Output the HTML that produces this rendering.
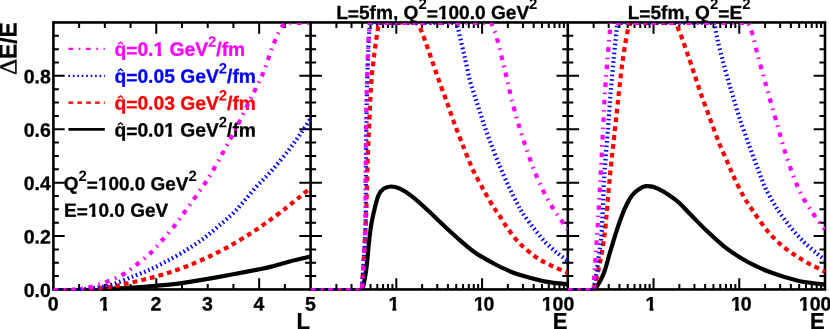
<!DOCTYPE html>
<html><head><meta charset="utf-8"><title>chart</title>
<style>html,body{margin:0;padding:0;background:#fff}svg{display:block;will-change:transform}text{font-family:"Liberation Sans",sans-serif;font-weight:bold;font-size:19.25px;fill:currentColor;stroke:currentColor;stroke-width:0.3px}.tl{font-size:19.5px}</style></head><body>
<svg width="830" height="329" viewBox="0 0 830 329">
<rect width="830" height="329" fill="#fff"/>
<defs>
<clipPath id="c1"><rect x="53.40" y="22.95" width="257.20" height="267.70"/></clipPath>
<clipPath id="c2"><rect x="310.60" y="22.95" width="257.20" height="267.70"/></clipPath>
<clipPath id="c3"><rect x="567.80" y="22.95" width="257.20" height="267.70"/></clipPath>
</defs>
<g fill="none" stroke="#000" stroke-width="2.60" stroke-linecap="square">
<rect x="53.40" y="22.45" width="771.60" height="267.00"/>
<path d="M310.60 22.45 V289.45 M567.80 22.45 V289.45"/>
</g>
<text transform="translate(336.2,19.0) rotate(0.03)" style="font-size:19.09px">L<tspan dy="1.3">=</tspan><tspan dy="-1.3">5fm, Q</tspan><tspan dy="-10.0" style="font-size:15.0px;stroke-width:0">2</tspan><tspan dy="11.3">=</tspan><tspan dy="-1.3">100.0 GeV</tspan><tspan dy="-10.0" style="font-size:15.0px;stroke-width:0">2</tspan></text>
<text transform="translate(627.7,19.0) rotate(0.03)" style="font-size:19.09px">L<tspan dy="1.3">=</tspan><tspan dy="-1.3">5fm, Q</tspan><tspan dy="-10.0" style="font-size:15.0px;stroke-width:0">2</tspan><tspan dy="11.3">=</tspan><tspan dy="-1.3">E</tspan><tspan dy="-10.0" style="font-size:15.0px;stroke-width:0">2</tspan></text>
<text transform="translate(63.8,190.1) rotate(0.03)" style="font-size:18.96px">Q<tspan dy="-9.2" style="font-size:14.9px;stroke-width:0">2</tspan><tspan dy="10.5">=</tspan><tspan dy="-1.3">100.0 GeV</tspan><tspan dy="-9.2" style="font-size:14.9px;stroke-width:0">2</tspan></text>
<text transform="translate(64.1,216.7) rotate(0.03)" style="font-size:19.0px">E<tspan dy="1.3">=</tspan><tspan dy="-1.3">10.0 GeV</tspan></text>
<path d="M68.4 48.9 H104.8" fill="none" stroke="#f0f" stroke-width="2.2" stroke-dasharray="4.6 5.7 1.6 5.7"/>
<text transform="translate(114.4,55.8) rotate(0.03)" style="color:#f0f">q<tspan dy="1.3">=</tspan><tspan dy="-1.3">0.1 GeV</tspan><tspan dy="-9.2" style="font-size:14.9px;stroke-width:0">2</tspan><tspan dy="9.2">/fm</tspan></text>
<path d="M117.9 44.3 l2.6 -2.2 l2.6 2.2" fill="none" stroke="#f0f" stroke-width="1.4"/>
<path d="M68.4 75.8 H104.8" fill="none" stroke="#00f" stroke-width="2.2" stroke-dasharray="1.6 2.85"/>
<text transform="translate(114.4,82.7) rotate(0.03)" style="color:#00f">q<tspan dy="1.3">=</tspan><tspan dy="-1.3">0.05 GeV</tspan><tspan dy="-9.2" style="font-size:14.9px;stroke-width:0">2</tspan><tspan dy="9.2">/fm</tspan></text>
<path d="M117.9 71.2 l2.6 -2.2 l2.6 2.2" fill="none" stroke="#00f" stroke-width="1.4"/>
<path d="M68.4 102.6 H104.8" fill="none" stroke="#f00" stroke-width="2.2" stroke-dasharray="4.8 4.07"/>
<text transform="translate(114.4,109.6) rotate(0.03)" style="color:#f00">q<tspan dy="1.3">=</tspan><tspan dy="-1.3">0.03 GeV</tspan><tspan dy="-9.2" style="font-size:14.9px;stroke-width:0">2</tspan><tspan dy="9.2">/fm</tspan></text>
<path d="M117.9 98.1 l2.6 -2.2 l2.6 2.2" fill="none" stroke="#f00" stroke-width="1.4"/>
<path d="M68.4 129.3 H104.8" fill="none" stroke="#000" stroke-width="2.7"/>
<text transform="translate(114.4,136.5) rotate(0.03)" style="color:#000">q<tspan dy="1.3">=</tspan><tspan dy="-1.3">0.01 GeV</tspan><tspan dy="-9.2" style="font-size:14.9px;stroke-width:0">2</tspan><tspan dy="9.2">/fm</tspan></text>
<path d="M117.9 125.0 l2.6 -2.2 l2.6 2.2" fill="none" stroke="#000" stroke-width="1.4"/>
<path fill="#fff" d="M437.69 16.00h4.11v4.20h-4.11z M445.62 16.00h3.25v4.20h-3.25z"/>
<path fill="#fff" d="M97.69 187.08h4.09v4.17h-4.09z M105.57 187.08h3.22v4.17h-3.22z"/>
<path fill="#fff" d="M87.70 213.67h4.09v4.18h-4.09z M95.59 213.67h3.23v4.18h-3.23z"/>
<path fill="#fff" d="M153.26 52.74h4.15v4.24h-4.15z M161.26 52.74h3.27v4.24h-3.27z"/>
<path fill="#fff" d="M163.97 133.45h4.15v4.24h-4.15z M171.96 133.45h3.27v4.24h-3.27z"/>
<path fill="none" stroke="#000" stroke-width="2.0" d="M79.12 289.45L79.12 283.95 M79.12 22.45L79.12 27.95 M104.84 289.45L104.84 283.95 M104.84 22.45L104.84 27.95 M130.56 289.45L130.56 283.95 M130.56 22.45L130.56 27.95 M156.28 289.45L156.28 278.15 M156.28 22.45L156.28 33.75 M182.00 289.45L182.00 283.95 M182.00 22.45L182.00 27.95 M207.72 289.45L207.72 283.95 M207.72 22.45L207.72 27.95 M233.44 289.45L233.44 283.95 M233.44 22.45L233.44 27.95 M259.16 289.45L259.16 278.15 M259.16 22.45L259.16 33.75 M284.88 289.45L284.88 283.95 M284.88 22.45L284.88 27.95 M336.41 289.45L336.41 283.95 M336.41 22.45L336.41 27.95 M351.51 289.45L351.51 283.95 M351.51 22.45L351.51 27.95 M362.22 289.45L362.22 283.95 M362.22 22.45L362.22 27.95 M370.53 289.45L370.53 283.95 M370.53 22.45L370.53 27.95 M377.31 289.45L377.31 283.95 M377.31 22.45L377.31 27.95 M383.05 289.45L383.05 283.95 M383.05 22.45L383.05 27.95 M388.02 289.45L388.02 283.95 M388.02 22.45L388.02 27.95 M392.41 289.45L392.41 283.95 M392.41 22.45L392.41 27.95 M396.33 289.45L396.33 278.15 M396.33 22.45L396.33 33.75 M422.14 289.45L422.14 283.95 M422.14 22.45L422.14 27.95 M437.24 289.45L437.24 283.95 M437.24 22.45L437.24 27.95 M447.95 289.45L447.95 283.95 M447.95 22.45L447.95 27.95 M456.26 289.45L456.26 283.95 M456.26 22.45L456.26 27.95 M463.05 289.45L463.05 283.95 M463.05 22.45L463.05 27.95 M468.79 289.45L468.79 283.95 M468.79 22.45L468.79 27.95 M473.76 289.45L473.76 283.95 M473.76 22.45L473.76 27.95 M478.14 289.45L478.14 283.95 M478.14 22.45L478.14 27.95 M482.07 289.45L482.07 278.15 M482.07 22.45L482.07 33.75 M507.87 289.45L507.87 283.95 M507.87 22.45L507.87 27.95 M522.97 289.45L522.97 283.95 M522.97 22.45L522.97 27.95 M533.68 289.45L533.68 283.95 M533.68 22.45L533.68 27.95 M541.99 289.45L541.99 283.95 M541.99 22.45L541.99 27.95 M548.78 289.45L548.78 283.95 M548.78 22.45L548.78 27.95 M554.52 289.45L554.52 283.95 M554.52 22.45L554.52 27.95 M559.49 289.45L559.49 283.95 M559.49 22.45L559.49 27.95 M563.88 289.45L563.88 283.95 M563.88 22.45L563.88 27.95 M593.61 289.45L593.61 283.95 M593.61 22.45L593.61 27.95 M608.71 289.45L608.71 283.95 M608.71 22.45L608.71 27.95 M619.42 289.45L619.42 283.95 M619.42 22.45L619.42 27.95 M627.73 289.45L627.73 283.95 M627.73 22.45L627.73 27.95 M634.51 289.45L634.51 283.95 M634.51 22.45L634.51 27.95 M640.25 289.45L640.25 283.95 M640.25 22.45L640.25 27.95 M645.22 289.45L645.22 283.95 M645.22 22.45L645.22 27.95 M649.61 289.45L649.61 283.95 M649.61 22.45L649.61 27.95 M653.53 289.45L653.53 278.15 M653.53 22.45L653.53 33.75 M679.34 289.45L679.34 283.95 M679.34 22.45L679.34 27.95 M694.44 289.45L694.44 283.95 M694.44 22.45L694.44 27.95 M705.15 289.45L705.15 283.95 M705.15 22.45L705.15 27.95 M713.46 289.45L713.46 283.95 M713.46 22.45L713.46 27.95 M720.25 289.45L720.25 283.95 M720.25 22.45L720.25 27.95 M725.99 289.45L725.99 283.95 M725.99 22.45L725.99 27.95 M730.96 289.45L730.96 283.95 M730.96 22.45L730.96 27.95 M735.34 289.45L735.34 283.95 M735.34 22.45L735.34 27.95 M739.27 289.45L739.27 278.15 M739.27 22.45L739.27 33.75 M765.07 289.45L765.07 283.95 M765.07 22.45L765.07 27.95 M780.17 289.45L780.17 283.95 M780.17 22.45L780.17 27.95 M790.88 289.45L790.88 283.95 M790.88 22.45L790.88 27.95 M799.19 289.45L799.19 283.95 M799.19 22.45L799.19 27.95 M805.98 289.45L805.98 283.95 M805.98 22.45L805.98 27.95 M811.72 289.45L811.72 283.95 M811.72 22.45L811.72 27.95 M816.69 289.45L816.69 283.95 M816.69 22.45L816.69 27.95 M821.08 289.45L821.08 283.95 M821.08 22.45L821.08 27.95 M53.40 276.10L58.90 276.10 M305.10 276.10L316.10 276.10 M562.30 276.10L573.30 276.10 M819.50 276.10L825.00 276.10 M53.40 262.75L58.90 262.75 M305.10 262.75L316.10 262.75 M562.30 262.75L573.30 262.75 M819.50 262.75L825.00 262.75 M53.40 249.40L58.90 249.40 M305.10 249.40L316.10 249.40 M562.30 249.40L573.30 249.40 M819.50 249.40L825.00 249.40 M53.40 236.05L64.70 236.05 M299.30 236.05L321.90 236.05 M556.50 236.05L579.10 236.05 M813.70 236.05L825.00 236.05 M53.40 222.70L58.90 222.70 M305.10 222.70L316.10 222.70 M562.30 222.70L573.30 222.70 M819.50 222.70L825.00 222.70 M53.40 209.35L58.90 209.35 M305.10 209.35L316.10 209.35 M562.30 209.35L573.30 209.35 M819.50 209.35L825.00 209.35 M53.40 196.00L58.90 196.00 M305.10 196.00L316.10 196.00 M562.30 196.00L573.30 196.00 M819.50 196.00L825.00 196.00 M53.40 182.65L64.70 182.65 M299.30 182.65L321.90 182.65 M556.50 182.65L579.10 182.65 M813.70 182.65L825.00 182.65 M53.40 169.30L58.90 169.30 M305.10 169.30L316.10 169.30 M562.30 169.30L573.30 169.30 M819.50 169.30L825.00 169.30 M53.40 155.95L58.90 155.95 M305.10 155.95L316.10 155.95 M562.30 155.95L573.30 155.95 M819.50 155.95L825.00 155.95 M53.40 142.60L58.90 142.60 M305.10 142.60L316.10 142.60 M562.30 142.60L573.30 142.60 M819.50 142.60L825.00 142.60 M53.40 129.25L64.70 129.25 M299.30 129.25L321.90 129.25 M556.50 129.25L579.10 129.25 M813.70 129.25L825.00 129.25 M53.40 115.90L58.90 115.90 M305.10 115.90L316.10 115.90 M562.30 115.90L573.30 115.90 M819.50 115.90L825.00 115.90 M53.40 102.55L58.90 102.55 M305.10 102.55L316.10 102.55 M562.30 102.55L573.30 102.55 M819.50 102.55L825.00 102.55 M53.40 89.20L58.90 89.20 M305.10 89.20L316.10 89.20 M562.30 89.20L573.30 89.20 M819.50 89.20L825.00 89.20 M53.40 75.85L64.70 75.85 M299.30 75.85L321.90 75.85 M556.50 75.85L579.10 75.85 M813.70 75.85L825.00 75.85 M53.40 62.50L58.90 62.50 M305.10 62.50L316.10 62.50 M562.30 62.50L573.30 62.50 M819.50 62.50L825.00 62.50 M53.40 49.15L58.90 49.15 M305.10 49.15L316.10 49.15 M562.30 49.15L573.30 49.15 M819.50 49.15L825.00 49.15 M53.40 35.80L58.90 35.80 M305.10 35.80L316.10 35.80 M562.30 35.80L573.30 35.80 M819.50 35.80L825.00 35.80"/>
<g clip-path="url(#c1)" fill="none" stroke-linejoin="round">
<path d="M53.4 289.4 L104.0 289.4" stroke="#000" stroke-width="2.1"/>
<path d="M104.0 289.7 C105.4 289.5 108.1 289.0 112.7 288.7 C117.3 288.4 126.2 288.0 133.0 287.6 C139.8 287.2 147.8 286.6 155.3 285.9 C162.8 285.2 171.6 284.5 180.0 283.4 C188.4 282.3 199.2 280.4 207.7 278.9 C216.2 277.4 225.0 275.8 233.2 274.3 C241.4 272.8 252.6 270.6 258.7 269.4 C264.8 268.2 266.4 267.9 271.5 266.6 C276.6 265.3 284.3 262.8 290.6 261.2 C296.9 259.6 307.4 257.3 310.6 256.5" stroke="#000" stroke-width="4.2"/>
<path d="M53.4 289.4 L84.0 289.4" stroke="#f00" stroke-width="2.1" stroke-dasharray="4.8 4.07"/>
<path d="M84.0 289.7 C88.2 289.2 103.0 287.8 110.0 286.8 C117.0 285.8 121.3 284.8 127.7 283.4 C134.1 282.0 143.5 279.8 150.3 278.0 C157.1 276.2 163.9 274.3 170.3 272.2 C176.7 270.1 184.0 267.4 190.4 264.8 C196.8 262.2 204.0 259.1 210.4 256.0 C216.8 252.9 224.1 249.2 230.5 245.6 C236.9 242.0 244.5 237.4 250.5 233.5 C256.5 229.6 262.2 225.6 268.0 221.5 C273.8 217.4 281.4 211.6 286.6 207.6 C291.8 203.6 296.6 199.4 300.4 196.3 C304.2 193.2 309.0 189.3 310.6 188.0" stroke="#f00" stroke-width="4.2" stroke-dasharray="4.8 4.07" stroke-dashoffset="4.0"/>
<path d="M53.4 289.4 L78.0 289.4" stroke="#00f" stroke-width="2.1" stroke-dasharray="1.6 2.85"/>
<path d="M78.0 289.7 C79.1 289.6 81.5 289.4 85.0 289.0 C88.5 288.6 95.6 287.9 100.0 287.2 C104.4 286.5 107.5 286.1 112.7 284.4 C117.9 282.7 126.7 279.0 132.7 276.6 C138.7 274.2 144.7 272.0 150.3 269.5 C155.9 267.0 162.2 263.7 167.8 260.7 C173.4 257.7 179.7 254.2 185.3 250.7 C190.9 247.2 197.5 243.0 202.9 239.0 C208.3 235.0 213.7 230.3 219.0 225.7 C224.3 221.1 230.1 216.5 236.0 210.3 C241.9 204.1 250.2 193.6 256.0 187.2 C261.8 180.8 267.1 176.0 272.3 170.0 C277.5 164.0 284.3 155.8 288.8 150.0 C293.3 144.2 296.9 139.0 300.4 134.0 C303.9 129.0 309.0 121.0 310.6 118.5" stroke="#00f" stroke-width="4.2" stroke-dasharray="1.6 2.85" stroke-dashoffset="2.4"/>
<path d="M53.4 289.4 L72.0 289.4" stroke="#f0f" stroke-width="2.1" stroke-dasharray="4.6 5.7 1.6 5.7"/>
<path d="M72.0 289.7 C74.5 289.4 82.3 288.9 87.6 287.7 C92.9 286.5 99.4 284.6 105.0 282.5 C110.6 280.4 117.7 277.5 122.7 274.7 C127.7 271.9 132.0 268.1 136.3 264.8 C140.6 261.5 145.9 257.5 149.8 253.8 C153.7 250.1 157.1 246.0 160.8 241.8 C164.5 237.6 169.0 232.8 173.0 227.8 C177.0 222.8 180.7 217.5 185.5 210.8 C190.3 204.1 198.8 192.3 203.0 186.2 C207.2 180.1 208.8 177.4 211.8 172.4 C214.8 167.4 218.8 160.2 221.8 154.8 C224.8 149.4 228.2 143.0 230.6 138.5 C233.0 134.0 233.8 133.0 237.0 126.5 C240.2 120.0 246.7 106.7 250.9 98.1 C255.1 89.5 259.9 80.8 263.3 72.6 C266.7 64.4 269.6 54.1 272.4 47.0 C275.2 39.9 278.4 32.5 280.7 28.5 C283.0 24.5 285.8 23.2 286.8 22.2" stroke="#f0f" stroke-width="4.2" stroke-dasharray="4.6 5.7 1.6 5.7" stroke-dashoffset="1.0"/>
<path d="M286.8 23.9 L310.6 23.9" stroke="#f0f" stroke-width="2.1" stroke-dasharray="4.6 5.7 1.6 5.7" stroke-dashoffset="7.5"/>
</g>
<g clip-path="url(#c2)" fill="none" stroke-linejoin="round">
<path d="M310.6 289.4 L362.6 289.4" stroke="#000" stroke-width="2.1"/>
<path d="M362.6 289.7 C363.2 286.5 365.2 277.1 366.2 269.9 C367.2 262.7 367.9 252.1 368.7 244.9 C369.5 237.7 370.2 231.0 371.2 225.0 C372.2 219.0 373.7 212.2 374.9 207.4 C376.1 202.6 377.3 197.9 378.7 194.9 C380.1 191.9 381.6 190.0 383.6 188.7 C385.6 187.4 388.5 186.5 391.1 186.5 C393.7 186.5 396.5 187.1 399.9 188.7 C403.3 190.3 407.9 193.2 412.3 196.6 C416.7 200.0 422.1 205.0 427.3 209.8 C432.5 214.6 439.4 221.6 444.5 226.3 C449.6 231.0 454.3 235.3 458.9 239.3 C463.5 243.3 469.7 248.6 473.4 251.4 C477.1 254.2 478.3 254.7 482.0 256.9 C485.7 259.1 491.9 262.6 496.5 265.0 C501.1 267.4 506.3 269.8 510.9 271.7 C515.5 273.6 519.8 275.0 525.4 276.6 C531.0 278.2 538.8 280.4 545.6 281.6 C552.4 282.8 564.2 284.0 567.8 284.4" stroke="#000" stroke-width="4.2"/>
<path d="M310.6 289.4 L361.9 289.4" stroke="#f00" stroke-width="2.1" stroke-dasharray="4.8 4.07"/>
<path d="M361.9 289.7 C362.5 278.5 365.0 240.4 365.9 220.0 C366.8 199.6 367.1 177.6 367.6 162.0 C368.1 146.4 368.7 135.7 369.3 122.6 C369.9 109.5 370.5 92.4 371.5 80.0 C372.5 67.6 374.3 54.3 375.5 45.1 C376.7 35.9 378.4 25.9 378.9 22.2" stroke="#f00" stroke-width="4.2" stroke-dasharray="4.8 4.07" stroke-dashoffset="6.9"/>
<path d="M378.9 23.9 L416.0 23.9" stroke="#f00" stroke-width="2.1" stroke-dasharray="4.8 4.07" stroke-dashoffset="0.2"/>
<path d="M416.0 22.2 C416.7 23.3 419.0 25.9 420.5 29.0 C422.0 32.1 423.3 36.0 425.3 41.4 C427.3 46.8 430.6 56.4 432.8 62.7 C435.0 69.0 436.9 74.8 439.1 81.0 C441.3 87.2 444.2 94.6 446.6 101.3 C449.0 108.0 451.4 115.3 454.1 122.6 C456.8 129.9 460.4 139.2 463.4 146.7 C466.4 154.2 469.5 162.4 472.8 169.5 C476.1 176.6 480.8 184.9 484.1 190.9 C487.4 196.9 491.0 202.9 493.5 207.0 C496.0 211.1 497.7 213.0 500.0 216.5 C502.3 220.0 504.9 224.5 508.0 228.8 C511.1 233.1 515.4 239.0 519.6 243.3 C523.8 247.6 529.4 252.3 534.0 255.7 C538.6 259.1 543.1 261.6 548.5 264.3 C553.9 267.0 564.7 271.4 567.8 272.8" stroke="#f00" stroke-width="4.2" stroke-dasharray="4.8 4.07" stroke-dashoffset="1.8"/>
<path d="M310.6 289.4 L361.9 289.4" stroke="#00f" stroke-width="2.1" stroke-dasharray="1.6 2.85"/>
<path d="M361.9 289.7 C362.5 280.1 364.8 247.6 365.4 230.0 C366.0 212.4 365.7 200.8 365.9 180.0 C366.1 159.2 366.4 120.8 366.8 100.0 C367.2 79.2 367.8 62.4 368.3 50.0 C368.8 37.6 369.6 26.6 369.9 22.2" stroke="#00f" stroke-width="4.2" stroke-dasharray="1.6 2.85" stroke-dashoffset="2.3"/>
<path d="M369.9 23.9 L456.6 23.9" stroke="#00f" stroke-width="2.1" stroke-dasharray="1.6 2.85" stroke-dashoffset="3.0"/>
<path d="M456.6 22.2 C457.1 24.3 458.3 29.4 459.6 35.1 C460.9 40.8 463.1 50.3 464.8 57.6 C466.5 64.9 468.1 74.0 470.0 81.0 C471.9 88.0 474.4 94.8 476.5 101.3 C478.6 107.8 480.7 114.9 482.9 121.4 C485.1 127.9 487.5 134.7 490.2 141.8 C492.9 148.9 496.5 158.3 499.5 165.5 C502.5 172.7 506.1 180.8 508.9 186.8 C511.7 192.8 514.8 198.8 517.0 203.0 C519.2 207.2 519.8 208.9 522.5 213.0 C525.2 217.1 530.3 223.8 534.0 228.5 C537.7 233.2 541.9 238.6 545.6 242.5 C549.3 246.4 553.6 250.0 557.2 253.0 C560.8 256.0 566.1 259.7 567.8 261.0" stroke="#00f" stroke-width="4.2" stroke-dasharray="1.6 2.85" stroke-dashoffset="0.7"/>
<path d="M310.6 289.4 L361.9 289.4" stroke="#f0f" stroke-width="2.1" stroke-dasharray="4.6 5.7 1.6 5.7"/>
<path d="M361.9 289.7 C362.4 280.1 364.6 247.6 365.2 230.0 C365.8 212.4 365.4 200.8 365.6 180.0 C365.8 159.2 366.1 120.8 366.5 100.0 C366.9 79.2 367.5 62.4 368.0 50.0 C368.5 37.6 369.3 26.6 369.6 22.2" stroke="#f0f" stroke-width="4.2" stroke-dasharray="4.6 5.7 1.6 5.7" stroke-dashoffset="16.1"/>
<path d="M369.6 23.9 L491.0 23.9" stroke="#f0f" stroke-width="2.1" stroke-dasharray="4.6 5.7 1.6 5.7" stroke-dashoffset="2.2"/>
<path d="M491.0 22.2 C491.9 24.7 494.8 31.1 496.7 37.6 C498.6 44.1 501.3 55.8 503.0 62.7 C504.7 69.6 506.1 75.0 507.5 81.0 C508.9 87.0 510.1 93.3 511.8 100.0 C513.5 106.7 515.8 115.1 518.0 122.6 C520.2 130.1 523.1 139.0 525.7 146.7 C528.3 154.4 531.6 164.0 534.3 170.8 C537.0 177.6 540.2 184.4 542.6 189.5 C545.0 194.6 547.2 198.5 549.5 202.5 C551.8 206.5 554.8 210.9 557.2 214.5 C559.6 218.1 562.7 222.6 564.4 225.0 C566.1 227.4 567.3 228.6 567.8 229.3" stroke="#f0f" stroke-width="4.2" stroke-dasharray="4.6 5.7 1.6 5.7" stroke-dashoffset="0.4"/>
</g>
<g clip-path="url(#c3)" fill="none" stroke-linejoin="round">
<path d="M567.8 289.4 L593.6 289.4" stroke="#000" stroke-width="2.1"/>
<path d="M593.6 289.7 C594.1 289.2 595.3 289.2 597.0 286.5 C598.7 283.8 602.0 277.9 604.0 272.7 C606.0 267.5 607.7 260.1 609.5 254.0 C611.3 247.9 613.6 240.4 615.4 234.6 C617.2 228.8 619.2 222.9 621.0 218.0 C622.8 213.1 625.0 207.8 626.8 204.2 C628.6 200.6 630.2 197.8 632.0 195.5 C633.8 193.2 636.0 191.3 638.2 189.8 C640.4 188.3 642.7 186.4 645.8 186.2 C648.9 186.0 652.4 186.0 657.3 188.3 C662.2 190.6 671.1 196.3 676.3 200.4 C681.5 204.5 685.1 209.1 690.0 214.0 C694.9 218.9 701.4 225.7 706.7 230.8 C712.0 235.9 718.1 241.5 723.4 245.8 C728.7 250.1 735.2 254.4 740.1 257.5 C745.0 260.6 749.5 263.0 754.0 265.2 C758.5 267.4 763.9 269.7 768.5 271.5 C773.1 273.3 777.5 274.8 783.0 276.4 C788.5 278.0 796.3 280.5 803.0 281.8 C809.7 283.1 821.5 284.1 825.0 284.5" stroke="#000" stroke-width="4.2"/>
<path d="M567.8 289.4 L594.0 289.4" stroke="#f00" stroke-width="2.1" stroke-dasharray="4.8 4.07"/>
<path d="M594.0 289.7 C595.0 285.3 598.2 271.4 600.0 262.0 C601.8 252.6 603.4 244.8 605.0 231.0 C606.6 217.2 608.3 192.1 609.9 176.0 C611.5 159.9 613.5 143.1 614.9 130.1 C616.3 117.1 617.4 105.8 618.6 95.0 C619.8 84.2 621.0 72.7 622.4 62.6 C623.8 52.5 626.0 38.5 627.4 32.0 C628.8 25.5 630.4 23.8 631.0 22.2" stroke="#f00" stroke-width="4.2" stroke-dasharray="4.8 4.07" stroke-dashoffset="8.5"/>
<path d="M631.0 23.9 L675.5 23.9" stroke="#f00" stroke-width="2.1" stroke-dasharray="4.8 4.07" stroke-dashoffset="4.0"/>
<path d="M675.5 22.2 C676.4 24.5 679.2 30.6 681.3 36.3 C683.4 42.0 686.6 51.2 688.8 57.6 C691.0 64.0 693.1 70.4 695.1 76.4 C697.1 82.4 698.9 88.2 701.3 95.0 C703.7 101.8 707.3 111.2 710.1 118.8 C712.9 126.4 716.1 135.6 718.9 142.6 C721.7 149.6 725.3 157.2 727.7 162.7 C730.1 168.2 731.4 171.6 733.9 177.0 C736.4 182.4 740.4 190.6 743.5 196.2 C746.6 201.8 749.8 206.3 753.5 211.7 C757.2 217.1 762.5 224.9 766.8 230.1 C771.1 235.3 775.9 240.2 780.2 244.1 C784.5 248.0 789.3 251.3 793.6 254.2 C797.9 257.1 801.9 259.7 806.9 262.5 C811.9 265.3 822.1 270.3 825.0 271.8" stroke="#f00" stroke-width="4.2" stroke-dasharray="4.8 4.07" stroke-dashoffset="4.1"/>
<path d="M567.8 289.4 L593.6 289.4" stroke="#00f" stroke-width="2.1" stroke-dasharray="1.6 2.85"/>
<path d="M593.6 289.7 C594.4 284.9 597.0 269.6 598.3 260.0 C599.6 250.4 600.8 243.4 601.8 230.0 C602.8 216.6 603.3 192.4 604.3 176.0 C605.3 159.6 607.1 140.6 608.1 127.6 C609.1 114.6 609.5 105.8 610.4 95.0 C611.3 84.2 612.5 71.7 613.6 60.1 C614.7 48.5 616.8 28.3 617.4 22.2" stroke="#00f" stroke-width="4.2" stroke-dasharray="1.6 2.85" stroke-dashoffset="3.6"/>
<path d="M617.4 23.9 L714.4 23.9" stroke="#00f" stroke-width="2.1" stroke-dasharray="1.6 2.85" stroke-dashoffset="0.8"/>
<path d="M714.4 22.2 C714.9 25.1 716.3 34.0 717.6 40.1 C718.9 46.2 721.0 53.9 722.6 60.1 C724.2 66.3 726.1 73.2 727.7 78.9 C729.3 84.6 730.7 89.0 732.7 95.5 C734.7 102.0 737.4 111.7 740.0 119.5 C742.6 127.3 746.0 136.7 748.8 144.5 C751.6 152.3 754.9 161.0 757.6 168.0 C760.3 175.0 762.5 182.0 765.6 188.5 C768.7 195.0 773.0 202.3 776.9 208.4 C780.8 214.5 785.9 221.5 790.2 226.8 C794.5 232.1 799.3 237.5 803.6 241.8 C807.9 246.1 813.6 250.6 817.0 253.5 C820.4 256.4 823.7 259.0 825.0 260.0" stroke="#00f" stroke-width="4.2" stroke-dasharray="1.6 2.85" stroke-dashoffset="4.3"/>
<path d="M567.8 289.4 L593.4 289.4" stroke="#f0f" stroke-width="2.1" stroke-dasharray="4.6 5.7 1.6 5.7"/>
<path d="M593.4 289.7 C594.0 280.1 596.2 248.2 597.4 230.0 C598.6 211.8 599.7 192.4 600.6 176.0 C601.5 159.6 602.4 140.6 603.1 127.6 C603.8 114.6 604.1 105.8 604.8 95.0 C605.5 84.2 606.5 71.7 607.4 60.1 C608.3 48.5 610.1 28.3 610.6 22.2" stroke="#f0f" stroke-width="4.2" stroke-dasharray="4.6 5.7 1.6 5.7" stroke-dashoffset="8.0"/>
<path d="M610.6 23.9 L747.7 23.9" stroke="#f0f" stroke-width="2.1" stroke-dasharray="4.6 5.7 1.6 5.7" stroke-dashoffset="12.1"/>
<path d="M747.7 22.2 C748.5 24.2 751.1 29.7 752.7 35.0 C754.3 40.3 755.9 48.3 757.7 55.1 C759.5 61.9 762.2 71.3 764.0 77.7 C765.8 84.1 766.6 87.7 768.7 95.0 C770.8 102.3 774.4 114.6 776.9 123.4 C779.4 132.2 781.8 141.5 784.5 150.1 C787.2 158.7 791.0 169.8 793.7 176.9 C796.4 184.0 798.4 188.9 801.3 194.5 C804.2 200.1 808.6 206.6 811.9 211.7 C815.2 216.8 819.9 223.3 822.0 226.1 C824.1 228.9 824.5 228.8 825.0 229.3" stroke="#f0f" stroke-width="4.2" stroke-dasharray="4.6 5.7 1.6 5.7" stroke-dashoffset="8.4"/>
</g>
<text class="tl" transform="translate(50.8,296.9) rotate(0.03)" text-anchor="end">0.0</text>
<text class="tl" transform="translate(50.8,243.5) rotate(0.03)" text-anchor="end">0.2</text>
<text class="tl" transform="translate(50.8,190.1) rotate(0.03)" text-anchor="end">0.4</text>
<text class="tl" transform="translate(50.8,136.7) rotate(0.03)" text-anchor="end">0.6</text>
<text class="tl" transform="translate(50.8,83.3) rotate(0.03)" text-anchor="end">0.8</text>
<text class="tl" transform="translate(53.1,310.6) rotate(0.03)" text-anchor="middle">0</text>
<text class="tl" transform="translate(104.5,310.6) rotate(0.03)" text-anchor="middle">1</text>
<text class="tl" transform="translate(156.0,310.6) rotate(0.03)" text-anchor="middle">2</text>
<text class="tl" transform="translate(207.4,310.6) rotate(0.03)" text-anchor="middle">3</text>
<text class="tl" transform="translate(258.9,310.6) rotate(0.03)" text-anchor="middle">4</text>
<text class="tl" transform="translate(310.3,310.6) rotate(0.03)" text-anchor="middle">5</text>
<text class="tl" transform="translate(393.8,310.6) rotate(0.03)" text-anchor="middle">1</text>
<text class="tl" transform="translate(483.2,310.6) rotate(0.03)" text-anchor="middle"><tspan dx="0.9">1</tspan><tspan dx="-1.1">0</tspan></text>
<text class="tl" transform="translate(541.7,310.6) rotate(0.03)">100</text>
<text class="tl" transform="translate(651.0,310.6) rotate(0.03)" text-anchor="middle">1</text>
<text class="tl" transform="translate(740.4,310.6) rotate(0.03)" text-anchor="middle"><tspan dx="0.9">1</tspan><tspan dx="-1.1">0</tspan></text>
<text class="tl" transform="translate(798.9,310.6) rotate(0.03)">100</text>
<path fill="#fff" d="M98.87 307.48h4.20v4.29h-4.20z M106.97 307.48h3.32v4.29h-3.32z"/>
<path fill="#fff" d="M388.17 307.48h4.20v4.29h-4.20z M396.27 307.48h3.32v4.29h-3.32z"/>
<path fill="#fff" d="M473.59 307.48h4.20v4.29h-4.20z M481.69 307.48h3.32v4.29h-3.32z"/>
<path fill="#fff" d="M541.50 307.48h4.20v4.29h-4.20z M549.60 307.48h3.32v4.29h-3.32z"/>
<path fill="#fff" d="M645.37 307.48h4.20v4.29h-4.20z M653.47 307.48h3.32v4.29h-3.32z"/>
<path fill="#fff" d="M730.79 307.48h4.20v4.29h-4.20z M738.89 307.48h3.32v4.29h-3.32z"/>
<path fill="#fff" d="M798.70 307.48h4.20v4.29h-4.20z M806.80 307.48h3.32v4.29h-3.32z"/>
<text transform="translate(296.5,329.0) rotate(0.03) scale(0.95,1)" style="font-size:23.2px">L</text>
<text transform="translate(552.7,329.0) rotate(0.03) scale(0.95,1)" style="font-size:23.2px">E</text>
<text transform="translate(809.9,329.0) rotate(0.03) scale(0.95,1)" style="font-size:23.2px">E</text>
<text transform="translate(16.6,75.1) rotate(-89.97) scale(1.03,1)" style="font-family:'Liberation Serif',serif;font-size:24.6px;font-weight:normal;stroke-width:0.4px">&#916;</text>
<text transform="translate(16.6,59.1) rotate(-89.97) scale(0.925,1)" style="font-size:24.7px">E/E</text>
</svg></body></html>
